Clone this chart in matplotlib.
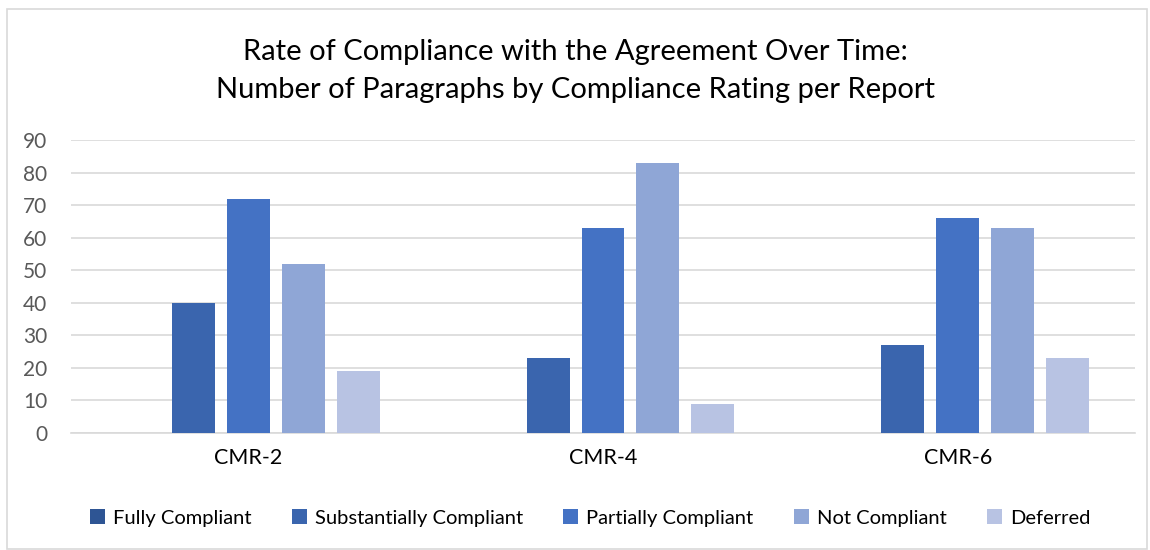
import numpy as np
import matplotlib.pyplot as plt
from matplotlib.patches import Rectangle

plt.rcParams['font.family'] = ['Lato', 'DejaVu Sans']

reports = ["CMR-2", "CMR-4", "CMR-6"]
ratings = ["Fully Compliant", "Substantially Compliant", "Partially Compliant",
           "Not Compliant", "Deferred"]
fully = [0, 0, 0]
substantially = [40, 23, 27]
partially = [72, 63, 66]
not_compliant = [52, 83, 63]
deferred = [19, 9, 23]
yticks = [0, 10, 20, 30, 40, 50, 60, 70, 80, 90]

series = [fully, substantially, partially, not_compliant, deferred]
colors = ["#2e5594", "#3a65ae", "#4472c4", "#8fa6d6", "#b8c3e3"]

fig = plt.figure(figsize=(11.5, 5.5), dpi=100)
ax = fig.add_axes([71/1150, 1 - 433/550, (1135 - 71)/1150, 293/550])

x = np.arange(len(reports))
w = 43/354.7
pitch = 55/354.7
for i, (vals, col, lab) in enumerate(zip(series, colors, ratings)):
    ax.bar(x + (i - 2)*pitch, vals, width=w, color=col, label=lab, zorder=3)

ax.set_xlim(-0.5, 2.5)
ax.set_ylim(0, 90)
ax.set_yticks(yticks)
ax.set_xticks(x)
ax.set_xticklabels(reports)
ax.yaxis.grid(True, color="#d9d9d9", linewidth=1.2, zorder=0)
for s in ["top", "right", "left"]:
    ax.spines[s].set_visible(False)
ax.spines["bottom"].set_color("#d9d9d9")
ax.spines["bottom"].set_linewidth(1.2)
ax.tick_params(axis="both", length=0, colors="#595959")
ax.tick_params(axis="y", pad=17, labelsize=15)
ax.tick_params(axis="x", pad=11, labelsize=15.5, labelcolor="#000000")

fig.text(0.5, 1 - 71/550,
         "Rate of Compliance with the Agreement Over Time:\nNumber of Paragraphs by Compliance Rating per Report",
         ha="center", va="center", fontsize=21, linespacing=1.55)

fig.legend(loc="center", bbox_to_anchor=(590/1150, 1 - 518/550), ncol=5,
           frameon=False, fontsize=14.5, handlelength=0.75, handleheight=0.75,
           columnspacing=2.0, handletextpad=0.4)

fig.patches.append(Rectangle((7/1150, 0.002), 1140/1150, 1 - 9/550 - 0.002,
                             transform=fig.transFigure, fill=False,
                             edgecolor="#d9d9d9", linewidth=1.2))

fig.savefig("out.png", dpi=100)
